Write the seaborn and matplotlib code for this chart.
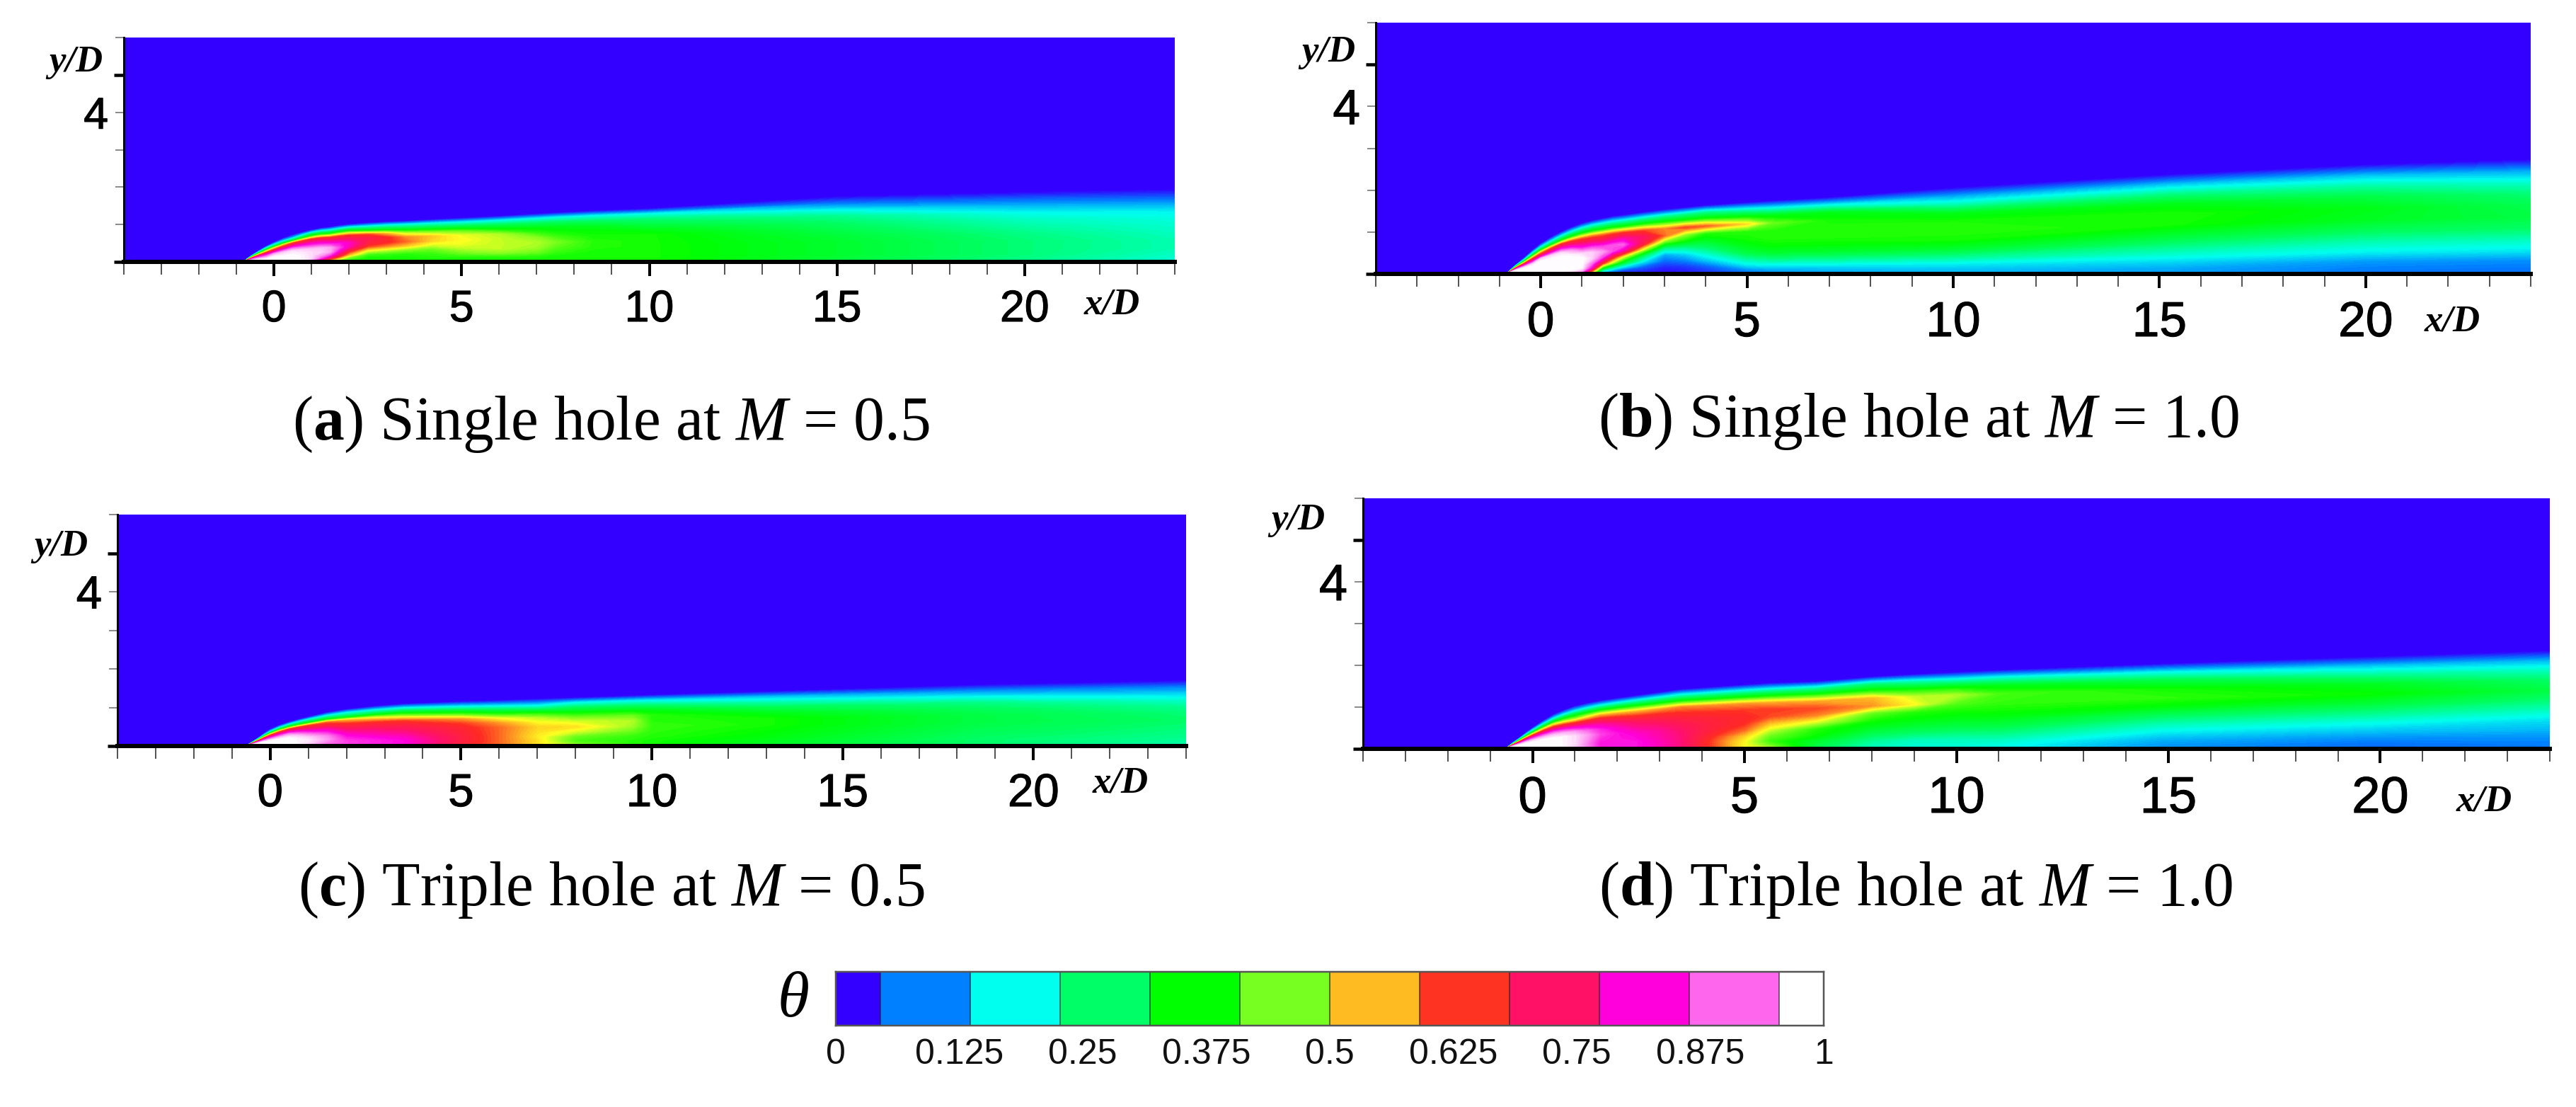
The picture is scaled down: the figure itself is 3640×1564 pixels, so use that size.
import numpy as np
import matplotlib
matplotlib.use("Agg")
import matplotlib.pyplot as plt
from matplotlib.colors import LinearSegmentedColormap, ListedColormap
import matplotlib.patheffects as pe
import seaborn as sns

W, H = 3640, 1564

# ---------- colour scale ----------
cell_colors = ['#3300ff', '#0080ff', '#00ffee', '#00ff66', '#00ff00', '#77ff22',
               '#ffbb22', '#ff3322', '#ff1166', '#ff00dd', '#ff66ee', '#ffffff']
cbar_cells = [0, 1, 1, 2, 2, 3, 3, 4, 4, 5, 5, 6, 6, 7, 7, 8, 8, 9, 9, 10, 10, 11]
cbar_ticks = [0, 0.125, 0.25, 0.375, 0.5, 0.625, 0.75, 0.875, 1]
cbar_labels = ['0', '0.125', '0.25', '0.375', '0.5', '0.625', '0.75', '0.875', '1']

# ---------- fractions of the local plume height at which theta is read ----------
eta = [0, .06, .12, .2, .3, .4, .5, .6, .7, .8, .9, 1]

# ---------- (a) single hole, M = 0.5 ----------
x_a = [-.8, -.6, -.4, -.2, 0, .25, .5, .75, 1, 1.25, 1.5, 1.75, 2, 2.5, 3, 3.5, 4.2, 5, 6, 7, 7.5, 8.5, 10, 15, 20, 24]
edge_a = [.02, .17, .3, .42, .52, .63, .72, .79, .85, .9, .93, .97, 1.0, 1.04, 1.07, 1.09, 1.13, 1.17, 1.22, 1.28,
          1.31, 1.36, 1.42, 1.74, 1.86, 1.93]
theta_a = [
    [1, 1, 1, .98, .92, .85, .75, .6, .45, .3, .15, 0],
    [1, 1, 1, .98, .92, .85, .75, .6, .45, .3, .15, 0],
    [1, 1, 1, .98, .92, .85, .75, .6, .45, .3, .15, 0],
    [1, 1, 1, .98, .92, .85, .75, .6, .45, .3, .15, 0],
    [1, 1, 1, 1, .98, .92, .8, .65, .5, .3, .15, 0],
    [1, 1, 1, 1, .98, .95, .84, .7, .55, .3, .14, 0],
    [1, 1, 1, 1, .99, .97, .88, .75, .6, .3, .12, 0],
    [.95, .97, .99, .99, .98, .96, .87, .76, .62, .35, .17, 0],
    [.75, .9, .97, .97, .97, .95, .86, .78, .65, .4, .22, 0],
    [.55, .72, .86, .92, .96, .95, .86, .77, .64, .4, .21, 0],
    [.4, .55, .72, .85, .93, .93, .85, .75, .62, .38, .2, 0],
    [.38, .44, .56, .7, .8, .86, .83, .74, .63, .4, .21, 0],
    [.37, .38, .43, .55, .66, .78, .8, .73, .64, .42, .22, 0],
    [.37, .37, .37, .4, .5, .62, .68, .7, .62, .36, .2, 0],
    [.37, .37, .37, .39, .47, .58, .65, .65, .55, .34, .2, 0],
    [.37, .37, .37, .38, .44, .54, .6, .58, .47, .32, .2, 0],
    [.37, .37, .38, .39, .42, .48, .53, .54, .44, .31, .19, 0],
    [.37, .37, .38, .42, .46, .49, .5, .49, .42, .3, .18, 0],
    [.37, .37, .38, .44, .47, .47, .47, .46, .37, .29, .18, 0],
    [.37, .37, .38, .42, .45, .46, .44, .39, .35, .28, .18, 0],
    [.37, .37, .37, .39, .41, .43, .4, .37, .34, .28, .18, 0],
    [.37, .37, .37, .37, .38, .38, .37, .36, .33, .27, .18, 0],
    [.38, .37, .37, .37, .37, .37, .37, .34, .3, .26, .18, 0],
    [.31, .31, .32, .32, .32, .31, .29, .27, .24, .17, .08, 0],
    [.25, .25, .26, .26, .26, .25, .23, .21, .18, .13, .07, 0],
    [.2, .2, .21, .22, .22, .21, .2, .19, .17, .12, .06, 0],
]

# ---------- (b) single hole, M = 1.0 ----------
x_b = [-.82, -.6, -.4, -.2, 0, .25, .5, .75, 1, 1.25, 1.5, 1.75, 2, 2.5, 3, 3.5, 4, 5, 5.6, 7, 10, 15.3, 20, 24]
edge_b = [.02, .22, .38, .56, .72, .87, 1.0, 1.11, 1.2, 1.27, 1.32, 1.37, 1.4, 1.47, 1.53, 1.58, 1.63, 1.7, 1.74,
          1.82, 2.05, 2.37, 2.6, 2.72]
theta_b = [
    [1, 1, 1, 1, 1, .97, .85, .7, .5, .3, .15, 0],
    [1, 1, 1, 1, 1, .97, .85, .7, .5, .3, .15, 0],
    [1, 1, 1, 1, 1, .97, .85, .7, .5, .3, .15, 0],
    [1, 1, 1, 1, 1, .97, .85, .7, .5, .3, .15, 0],
    [1, 1, 1, 1, 1, 1, .95, .72, .55, .32, .15, 0],
    [1, 1, 1, 1, 1, 1, .96, .77, .6, .33, .16, 0],
    [1, 1, 1, 1, 1, 1, .97, .82, .65, .35, .18, 0],
    [.95, .98, 1, 1, 1, .99, .92, .78, .62, .36, .19, 0],
    [.72, .92, .99, 1, 1, .97, .85, .74, .6, .37, .2, 0],
    [.35, .6, .8, .88, .96, .96, .86, .73, .6, .37, .2, 0],
    [.1, .2, .38, .65, .85, .92, .85, .72, .6, .37, .2, 0],
    [.05, .11, .25, .46, .67, .86, .87, .75, .61, .37, .2, 0],
    [.02, .05, .16, .32, .5, .78, .88, .78, .63, .37, .2, 0],
    [.01, .03, .07, .16, .27, .47, .68, .72, .62, .38, .21, 0],
    [.01, .01, .03, .07, .12, .24, .42, .6, .58, .38, .22, 0],
    [.02, .02, .04, .09, .15, .24, .36, .45, .62, .38, .23, 0],
    [.03, .04, .07, .14, .2, .27, .33, .38, .6, .38, .24, 0],
    [.07, .1, .16, .22, .3, .34, .37, .38, .52, .36, .2, 0],
    [.09, .12, .17, .24, .32, .36, .38, .38, .42, .34, .18, 0],
    [.11, .13, .17, .24, .32, .36, .38, .38, .37, .34, .18, 0],
    [.12, .14, .17, .24, .32, .37, .38, .375, .34, .22, .12, 0],
    [.11, .12, .15, .2, .26, .32, .37, .375, .34, .25, .14, 0],
    [.08, .09, .11, .17, .22, .28, .33, .34, .3, .23, .14, 0],
    [.08, .085, .1, .16, .21, .27, .3, .29, .26, .2, .12, 0],
]

# ---------- (c) triple hole, M = 0.5 ----------
x_c = [-.62, -.45, -.3, -.15, 0, .25, .5, .75, 1, 1.5, 2, 2.75, 3.5, 5, 6, 7, 8, 9.5, 10, 13, 18.5, 24]
edge_c = [.01, .12, .22, .33, .43, .54, .62, .69, .75, .87, .95, 1.03, 1.09, 1.15, 1.18, 1.22, 1.25, 1.3, 1.32,
          1.41, 1.58, 1.69]
theta_c = [
    [1, 1, 1, 1, 1, .92, .82, .68, .5, .28, .12, 0],
    [1, 1, 1, 1, 1, .92, .82, .68, .5, .28, .12, 0],
    [1, 1, 1, 1, 1, .92, .82, .68, .5, .28, .12, 0],
    [1, 1, 1, 1, 1, .92, .82, .68, .5, .28, .12, 0],
    [1, 1, 1, 1, 1, .92, .82, .68, .5, .28, .12, 0],
    [1, 1, 1, 1, 1, .95, .86, .73, .56, .32, .15, 0],
    [1, 1, 1, 1, 1, .97, .9, .78, .62, .35, .18, 0],
    [.97, .98, .99, .99, .98, .94, .86, .75, .62, .35, .19, 0],
    [.9, .95, .97, .98, .96, .9, .82, .72, .62, .35, .2, 0],
    [.87, .88, .9, .92, .9, .84, .78, .68, .6, .33, .18, 0],
    [.85, .86, .86, .84, .81, .76, .7, .64, .55, .3, .18, 0],
    [.83, .84, .84, .82, .78, .74, .69, .63, .51, .32, .18, 0],
    [.8, .82, .82, .8, .76, .72, .68, .62, .47, .33, .18, 0],
    [.66, .67, .68, .68, .67, .66, .63, .57, .42, .3, .15, 0],
    [.58, .6, .6, .6, .6, .6, .57, .5, .38, .27, .14, 0],
    [.52, .52, .52, .51, .52, .53, .5, .46, .37, .24, .12, 0],
    [.46, .42, .4, .42, .48, .52, .48, .42, .35, .27, .17, 0],
    [.38, .38, .38, .39, .42, .45, .46, .42, .35, .27, .17, 0],
    [.37, .37, .37, .38, .385, .39, .38, .38, .34, .26, .16, 0],
    [.33, .33, .34, .35, .36, .37, .37, .34, .29, .22, .14, 0],
    [.26, .27, .27, .28, .29, .3, .3, .28, .25, .18, .1, 0],
    [.22, .23, .24, .25, .26, .27, .26, .24, .2, .15, .09, 0],
]

# ---------- (d) triple hole, M = 1.0 ----------
x_d = [-.63, -.45, -.3, -.15, 0, .25, .5, .75, 1, 1.3, 1.6, 2, 2.44, 3, 3.5, 5, 5.6, 6.7, 8, 9, 10, 11, 14.85, 19.8, 24]
edge_d = [.01, .16, .27, .39, .5, .67, .82, .93, 1.02, 1.09, 1.15, 1.21, 1.27, 1.35, 1.42, 1.53, 1.57, 1.61, 1.72,
          1.78, 1.83, 1.88, 2.03, 2.2, 2.34]
theta_d = [
    [1, 1, 1, 1, 1, .95, .85, .7, .5, .3, .15, 0],
    [1, 1, 1, 1, 1, .95, .85, .7, .5, .3, .15, 0],
    [1, 1, 1, 1, 1, .95, .85, .7, .5, .3, .15, 0],
    [1, 1, 1, 1, 1, .95, .85, .7, .5, .3, .15, 0],
    [1, 1, 1, 1, 1, .95, .85, .7, .5, .3, .15, 0],
    [1, 1, 1, 1, 1, .95, .85, .7, .51, .31, .15, 0],
    [1, 1, 1, 1, 1, .95, .85, .7, .52, .32, .15, 0],
    [.98, .98, .99, .99, .99, .94, .83, .67, .48, .32, .15, 0],
    [.95, .96, .97, .97, .97, .92, .8, .64, .45, .32, .15, 0],
    [.89, .9, .9, .91, .92, .88, .79, .66, .5, .34, .17, 0],
    [.83, .83, .83, .84, .86, .84, .78, .68, .55, .36, .18, 0],
    [.83, .83, .83, .83, .83, .8, .75, .67, .55, .37, .19, 0],
    [.82, .83, .83, .82, .8, .76, .72, .65, .55, .37, .2, 0],
    [.78, .79, .79, .78, .77, .74, .7, .65, .56, .37, .2, 0],
    [.73, .74, .74, .74, .73, .71, .68, .64, .58, .37, .2, 0],
    [.5, .5, .5, .53, .6, .64, .65, .63, .57, .37, .2, 0],
    [.47, .42, .39, .42, .48, .55, .62, .63, .56, .37, .2, 0],
    [.3, .3, .32, .36, .38, .48, .58, .62, .56, .38, .22, 0],
    [.21, .22, .24, .28, .33, .37, .42, .57, .55, .38, .25, 0],
    [.19, .2, .21, .26, .31, .35, .38, .5, .47, .36, .22, 0],
    [.19, .2, .21, .25, .3, .34, .37, .41, .46, .36, .2, 0],
    [.18, .19, .21, .25, .3, .34, .37, .39, .4, .34, .2, 0],
    [.1, .11, .13, .17, .22, .28, .35, .385, .37, .3, .18, 0],
    [.07, .08, .1, .14, .19, .25, .31, .36, .33, .24, .14, 0],
    [.08, .09, .1, .13, .16, .21, .26, .3, .27, .21, .13, 0],
]

# ---------- axis tick values and captions ----------
x_major = [0, 5, 10, 15, 20]
x_minor = [-4, -3, -2, -1, 1, 2, 3, 4, 6, 7, 8, 9, 11, 12, 13, 14, 16, 17, 18, 19, 21, 22, 23, 24]
y_major = [0, 5]
y_minor = [1, 2, 3, 4, 6]
y_minor_labels = ['', '', '', '4', '']

sns.set_theme(style='white')
plt.rcParams['font.family'] = ['Liberation Sans', 'DejaVu Sans']
plt.rcParams['mathtext.fontset'] = 'custom'
plt.rcParams['mathtext.rm'] = 'Liberation Serif'
plt.rcParams['mathtext.it'] = 'Liberation Serif:italic'
plt.rcParams['mathtext.bf'] = 'Liberation Serif:bold'

stops = [(0, '#3300ff'), (.09, '#0080ff'), (.18, '#00ffee'), (.27, '#00ff66'),
         (.36, '#00ff00'), (.45, '#99ff22'), (.5, '#ffff20'), (.55, '#ffbb22'),
         (.64, '#ff2a22'), (.73, '#ff1166'), (.82, '#ff00dd'), (.91, '#ff88f0'),
         (1, '#ffffff')]
field_cmap = LinearSegmentedColormap.from_list('theta', stops, N=512)

fig = plt.figure(figsize=(W / 100, H / 100), dpi=100, facecolor='white')
PX = 72 / 100
bolder = [pe.withStroke(linewidth=0.8, foreground='black')]


def axes_px(left, top, right, bottom):
    return fig.add_axes([left / W, 1 - bottom / H, (right - left) / W, (bottom - top) / H])


def text_px(x, y, s, **kw):
    fig.text(x / W, 1 - y / H, s, ha='center', va='center', **kw)


panels = [
    dict(box=(175, 53, 1660, 370), x=x_a, edge=edge_a, theta=theta_a, fs=45,
         yl=(107, 88), xl=(1571, 430), cap=(863, 600), capt=r'($\mathbf{a}$) Single hole at $\mathit{M}$ = 0.5'),
    dict(box=(1944, 32, 3576, 387), x=x_b, edge=edge_b, theta=theta_b, fs=50,
         yl=(1877, 74), xl=(3465, 455), cap=(2711, 596), capt=r'($\mathbf{b}$) Single hole at $\mathit{M}$ = 1.0'),
    dict(box=(166, 727, 1676, 1054), x=x_c, edge=edge_c, theta=theta_c, fs=47,
         yl=(86, 772), xl=(1583, 1107), cap=(864, 1258), capt=r'($\mathbf{c}$) Triple hole at $\mathit{M}$ = 0.5'),
    dict(box=(1926, 704, 3603, 1058), x=x_d, edge=edge_d, theta=theta_d, fs=52,
         yl=(1834, 735), xl=(3510, 1132), cap=(2707, 1258), capt=r'($\mathbf{d}$) Triple hole at $\mathit{M}$ = 1.0'),
]

levels = np.linspace(0, 1, 129)
for p in panels:
    ax = axes_px(*p['box'])
    ax.set_facecolor(cell_colors[0])
    X = np.outer(p['x'], np.ones(len(eta)))
    Y = np.outer(p['edge'], eta)
    cs = ax.contourf(X, Y, np.array(p['theta']), levels=levels, cmap=field_cmap, vmin=0, vmax=1)
    cs.set_edgecolor('face')
    cs.set_linewidth(0.4)
    ax.set_xlim(-4, 24)
    ax.set_ylim(0, 6)
    sns.despine(ax=ax)
    for side in ('left', 'bottom'):
        ax.spines[side].set_color('black')
    ax.spines['left'].set_linewidth(3 * PX)
    ax.spines['bottom'].set_linewidth(6 * PX)
    ax.set_xticks(x_major)
    ax.set_xticklabels([str(v) for v in x_major], fontsize=p['fs'], path_effects=bolder)
    ax.set_xticks(x_minor, minor=True)
    ax.set_yticks(y_major)
    ax.set_yticklabels([])
    ax.set_yticks(y_minor, minor=True)
    ax.set_yticklabels(y_minor_labels, minor=True, fontsize=p['fs'], path_effects=bolder)
    ax.tick_params(axis='x', which='major', direction='out', bottom=True, length=20 * PX, width=4 * PX,
                   color='black', labelcolor='black', pad=18 * PX)
    ax.tick_params(axis='x', which='minor', direction='out', bottom=True, length=18 * PX, width=2 * PX,
                   color='#555555')
    ax.tick_params(axis='y', which='major', direction='out', left=True, length=14 * PX, width=4.5 * PX,
                   color='black')
    ax.tick_params(axis='y', which='minor', direction='out', left=True, length=12 * PX, width=1.5 * PX,
                   color='#666666', labelcolor='black', pad=10 * PX)
    label_font = dict(family=['Liberation Serif'], style='italic', weight='bold', fontsize=38, color='black')
    text_px(*p['yl'], 'y/D', **label_font)
    text_px(*p['xl'], 'x/D', **label_font)
    text_px(*p['cap'], p['capt'], family=['Liberation Serif'], fontsize=63, color='black')

# ---------- colour bar ----------
cax = axes_px(1181, 1373, 2577, 1449)
sns.heatmap([cbar_cells], ax=cax, cmap=ListedColormap(cell_colors), vmin=-.5, vmax=11.5,
            cbar=False, xticklabels=False, yticklabels=False, linewidths=0)
n = len(cbar_cells)
cax.vlines(np.arange(1, n, 2), 0, 1, color='#222222', lw=1.5 * PX, alpha=.8)
cax.set_xticks([v * n for v in cbar_ticks])
cax.set_xticklabels(cbar_labels, fontsize=36)
cax.tick_params(axis='x', length=0, pad=18 * PX, labelcolor='#111111')
for s in cax.spines.values():
    s.set_visible(True)
    s.set_color('#555555')
    s.set_linewidth(2.5 * PX)
text_px(1121, 1414, 'θ', family=['Liberation Serif'], style='italic', fontsize=66, color='black')

fig.savefig('out.png', dpi=100, facecolor='white')
